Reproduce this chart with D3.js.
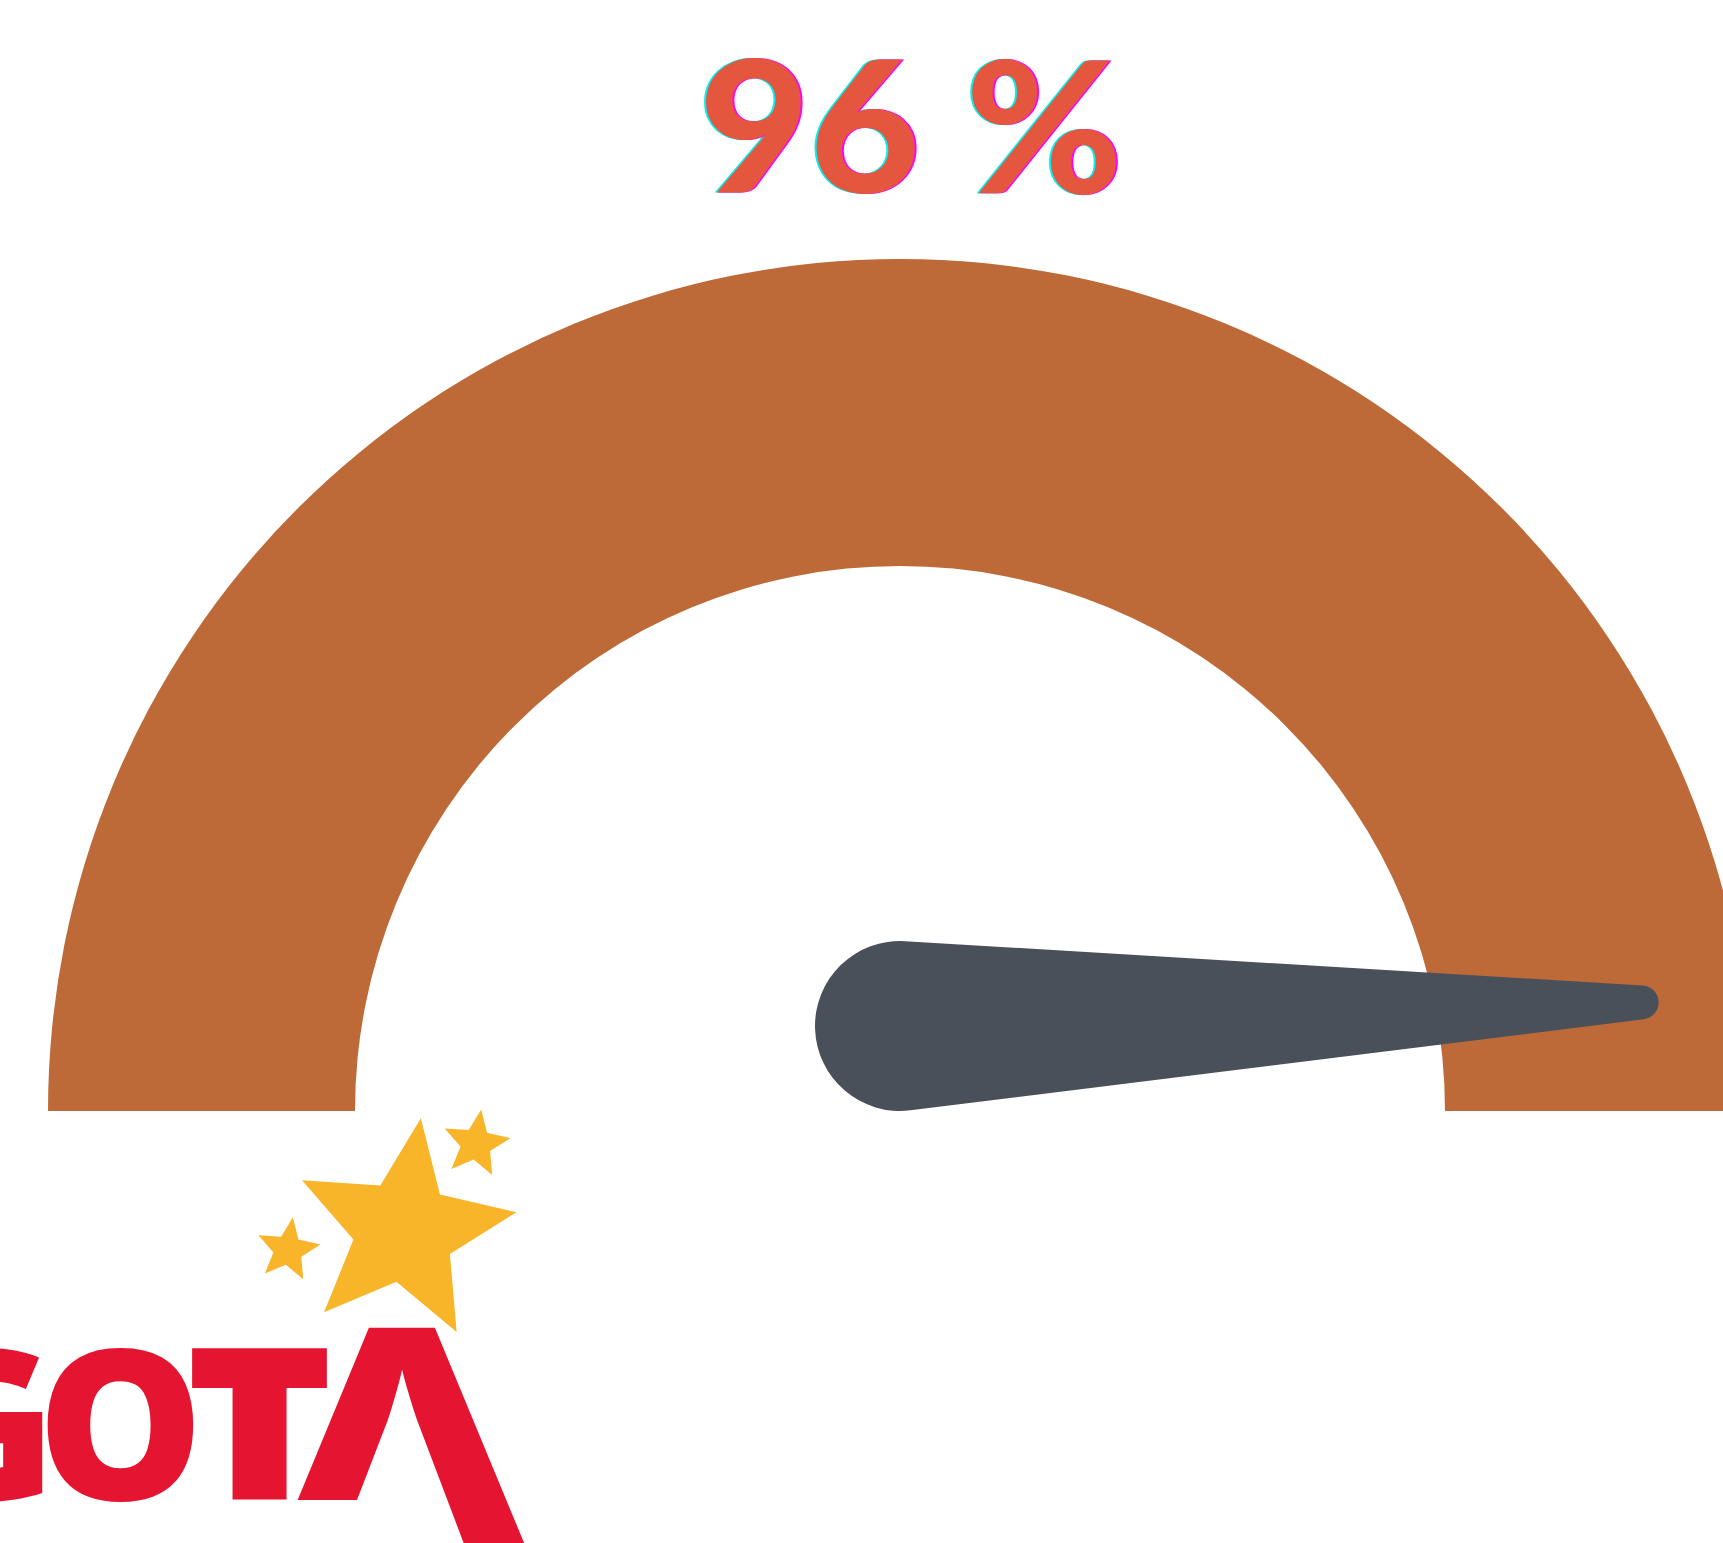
<!DOCTYPE html>
<html>
<head>
<meta charset="utf-8">
<script src="https://cdn.jsdelivr.net/npm/d3@7"></script>
<style>
  html, body { margin: 0; padding: 0; background: #fff; overflow: hidden; }
</style>
</head>
<body>
<div id="gauge"></div>
<script>
//-- Data --//
var gaugeValue = 96;
var gaugeDomain = [0, 100];
var bandStops = [0, 100];
var bandColors = ["#bd6a38"];
var titleText = gaugeValue + " %";
var logoLetters = ["G", "O", "T", "Λ"];

//-- Size setup --//
var width = 1723, height = 1543;
var cx = 900, cy = 1111,
    outerR = 852, innerR = 545;
var pivotY = 1026, hubR = 85, tipR = 17, needleLen = 742;

//-- Scales --//
var bandScale = d3.scaleLinear().domain(gaugeDomain).range([-Math.PI / 2, Math.PI / 2]);
// the needle in the picture sits a bit past the band for the same value
var needleScale = d3.scaleLinear().domain(gaugeDomain).range([-90, 95.6]);

//-- Create the SVG --//
var svg = d3.select("#gauge").append("svg")
  .attr("width", width)
  .attr("height", height)
  .style("display", "block");

svg.append("rect").attr("width", width).attr("height", height).attr("fill", "#fff");

//-- Band arc --//
var arc = d3.arc().innerRadius(innerR).outerRadius(outerR);
var bands = d3.range(bandColors.length).map(function(i) {
  return {from: bandStops[i], to: bandStops[i + 1], color: bandColors[i]};
});
svg.append("g")
  .attr("transform", "translate(" + cx + "," + cy + ")")
  .selectAll("path")
  .data(bands)
  .enter().append("path")
  .attr("d", function(d) {
    return arc({startAngle: bandScale(d.from), endAngle: bandScale(d.to)});
  })
  .attr("fill", function(d) { return d.color; });

//-- Needle --//
function needlePath(R, r, L) {
  var a = Math.asin((R - r) / L),
      s = Math.sin(a), c = Math.cos(a);
  return "M" + (R * s) + "," + (-R * c) +
    "L" + (L + r * s) + "," + (-r * c) +
    "A" + r + "," + r + " 0 0 1 " + (L + r * s) + "," + (r * c) +
    "L" + (R * s) + "," + (R * c) +
    "A" + R + "," + R + " 0 1 1 " + (R * s) + "," + (-R * c) + "Z";
}
svg.append("path")
  .datum(gaugeValue)
  .attr("d", needlePath(hubR, tipR, needleLen))
  .attr("transform", function(d) {
    return "translate(" + cx + "," + pivotY + ") rotate(" + (needleScale(d) - 90) + ")";
  })
  .attr("fill", "#4a5059");

//-- Title with colour fringes --//
var title = svg.append("g");
[["#00f0f0", -2, 0], ["#ff00ff", 2, 0], ["#e5563e", 0, 0]].forEach(function(t) {
  title.append("text")
    .attr("x", 699 + t[1])
    .attr("y", 193 + t[2])
    .attr("textLength", 424)
    .attr("lengthAdjust", "spacingAndGlyphs")
    .style("font-family", "Lato, 'Open Sans', sans-serif")
    .style("font-weight", 900)
    .style("font-size", "184px")
    .attr("fill", t[0])
    .text(titleText);
});

//-- Logo --//
var logo = svg.append("g");
var starColor = "#f9b52a", logoRed = "#e51431";
var starLine = d3.lineRadial().curve(d3.curveLinearClosed);
function starPoints(R, k) {
  return d3.range(10).map(function(i) {
    return [i * Math.PI / 5, i % 2 ? R * k : R];
  });
}
[[404, 1231, 114], [476, 1144, 35], [288, 1250, 33]].forEach(function(s) {
  logo.append("path")
    .attr("d", starLine(starPoints(s[2], 0.45)))
    .attr("transform", "translate(" + s[0] + "," + s[1] + ") rotate(8.5)")
    .attr("fill", starColor);
});

// the lambda's left leg stops at the baseline, the right one runs on
var clip = svg.append("defs").append("clipPath").attr("id", "lambdaClip");
clip.append("rect").attr("x", 0).attr("y", 0).attr("width", width).attr("height", 1500);
clip.append("rect").attr("x", 410).attr("y", 1500).attr("width", 300).attr("height", 100);

// x, baseline, width, font size, weight, extra stroke
var letterBox = [
  [-103, 1500, 160, 210, 800, 0],
  [37, 1500, 167, 210, 800, 0],
  [191, 1496, 137, 200, 800, 8],
  [272, 1562, 260, 328, 700, 0]
];
logo.selectAll("text")
  .data(logoLetters)
  .enter().append("text")
  .attr("x", function(d, i) { return letterBox[i][0]; })
  .attr("y", function(d, i) { return letterBox[i][1]; })
  .attr("textLength", function(d, i) { return letterBox[i][2]; })
  .attr("lengthAdjust", "spacingAndGlyphs")
  .attr("clip-path", function(d) { return d === "Λ" ? "url(#lambdaClip)" : null; })
  .style("font-family", "'Open Sans', Lato, sans-serif")
  .style("font-weight", function(d, i) { return letterBox[i][4]; })
  .style("font-size", function(d, i) { return letterBox[i][3] + "px"; })
  .attr("fill", logoRed)
  .attr("stroke", function(d, i) { return letterBox[i][5] ? logoRed : null; })
  .attr("stroke-width", function(d, i) { return letterBox[i][5] || null; })
  .text(function(d) { return d; });
</script>
</body>
</html>
